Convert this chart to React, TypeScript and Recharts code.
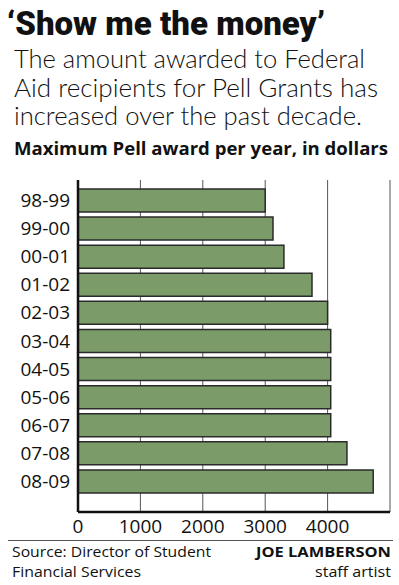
import { BarChart, Bar, XAxis, YAxis, CartesianGrid } from 'recharts';

// Maximum Pell award per year (dollars)
const years = ['98-99', '99-00', '00-01', '01-02', '02-03', '03-04', '04-05', '05-06', '06-07', '07-08', '08-09'];
const awards = [3000, 3125, 3300, 3750, 4000, 4050, 4050, 4050, 4050, 4310, 4731];
const xTicks = [0, 1000, 2000, 3000, 4000, 5000];

const BAR_FILL = '#7b9b68';
const INK = '#111';
const FONT = '"Open Sans", "Noto Sans", sans-serif';

const data = years.map((year, i) => ({ year, award: awards[i] }));

function YTick(props: { x?: number; y?: number; payload?: { value: string } }) {
  const { x = 0, y = 0, payload } = props;
  return (
    <text x={x} y={y} dy={7} textAnchor="end" fontSize={19} fill={INK} fontFamily={FONT}>
      {payload?.value}
    </text>
  );
}

function XTick(props: { x?: number; y?: number; payload?: { value: number } }) {
  const { x = 0, y = 0, payload } = props;
  // no label at the 5000 gridline
  if (payload?.value === 5000) return null;
  return (
    <text x={x} y={y} dy={13} textAnchor="middle" fontSize={19} fill={INK} fontFamily={FONT}>
      {payload?.value}
    </text>
  );
}

export default function App() {
  return (
    <div style={{ position: 'absolute', left: 0, top: 0, width: 399, height: 585, background: '#fff' }}>
      <svg width={399} height={585} style={{ position: 'absolute', left: 0, top: 0 }}>
        <text x={7} y={35} fontSize={34} fontWeight={900} fontFamily="Roboto, sans-serif" fill={INK}
          textLength={318} lengthAdjust="spacingAndGlyphs">
          ‘Show me the money’
        </text>
        <g fontFamily="Lato, sans-serif" fontWeight={300} fontSize={25} fill={INK}>
          <text x={14} y={68} textLength={351} lengthAdjust="spacingAndGlyphs">The amount awarded to Federal</text>
          <text x={14} y={97} textLength={364} lengthAdjust="spacingAndGlyphs">Aid recipients for Pell Grants has</text>
          <text x={14} y={125} textLength={348} lengthAdjust="spacingAndGlyphs">increased over the past decade.</text>
        </g>
        <text x={14} y={155} fontSize={17} fontWeight={700} fontFamily={FONT} fill={INK}
          textLength={374} lengthAdjust="spacingAndGlyphs">
          Maximum Pell award per year, in dollars
        </text>
        <line x1={8} x2={393} y1={540.5} y2={540.5} stroke="#555" strokeWidth={1} />
        <g fontFamily={FONT} fontSize={15} fill={INK}>
          <text x={12} y={557} textLength={199} lengthAdjust="spacingAndGlyphs">Source: Director of Student</text>
          <text x={12} y={577} textLength={129} lengthAdjust="spacingAndGlyphs">Financial Services</text>
          <text x={391} y={557} textAnchor="end" fontWeight={700} textLength={135} lengthAdjust="spacingAndGlyphs">JOE LAMBERSON</text>
          <text x={391} y={577} textAnchor="end" textLength={76} lengthAdjust="spacingAndGlyphs">staff artist</text>
        </g>
      </svg>
      <div style={{ position: 'absolute', left: 0, top: 170 }}>
        <BarChart
          width={399}
          height={380}
          data={data}
          layout="vertical"
          margin={{ top: 10, right: 9, left: 8, bottom: 8 }}
          barSize={23}
        >
          <CartesianGrid horizontal={false} stroke="#555" strokeWidth={1} />
          <XAxis
            type="number"
            domain={[0, 5000]}
            ticks={xTicks}
            height={30}
            tickLine={false}
            axisLine={{ stroke: INK, strokeWidth: 2.5 }}
            tick={<XTick />}
            interval={0}
          />
          <YAxis
            type="category"
            dataKey="year"
            width={70}
            padding={{ top: 6, bottom: 17 }}
            tickLine={false}
            axisLine={{ stroke: INK, strokeWidth: 2.5 }}
            tick={<YTick />}
            interval={0}
          />
          <Bar dataKey="award" fill={BAR_FILL} stroke="#2b2b2b" strokeWidth={1.5} isAnimationActive={false} />
        </BarChart>
      </div>
    </div>
  );
}
